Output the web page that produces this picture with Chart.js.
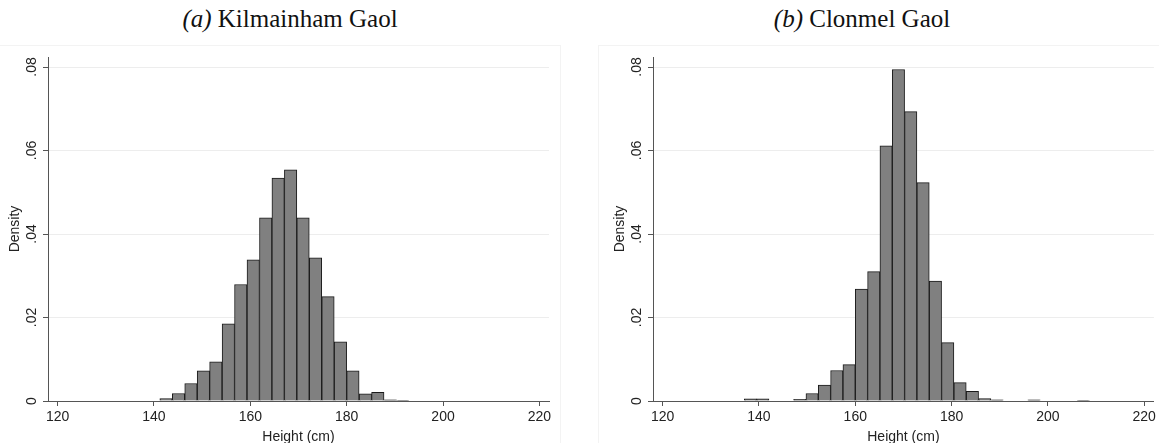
<!DOCTYPE html>
<html>
<head>
<meta charset="utf-8">
<script src="https://cdn.jsdelivr.net/npm/chart.js@4.4.1/dist/chart.umd.min.js"></script>
<style>
  body { margin: 0; background: #fff; width: 1159px; height: 443px; overflow: hidden; position: relative; }
  .title { position: absolute; top: 6px; width: 400px; text-align: center; font-family: "Liberation Serif", "DejaVu Serif", serif; font-size: 25px; line-height: 25px; color: #111; white-space: nowrap; }
  .frame { position: absolute; top: 45px; height: 420px; border: 1px solid #f3f3f3; }
  canvas { position: absolute; top: 45px; }
</style>
</head>
<body>
<div class="frame" style="left:-2px; width:561px;"></div>
<div class="frame" style="left:598px; width:600px;"></div>
<div class="title" style="left:90px;"><i>(a)</i> Kilmainham Gaol</div>
<div class="title" style="left:662px;"><i>(b)</i> Clonmel Gaol</div>
<canvas id="kilmainham" width="560" height="402" style="left:0px"></canvas>
<canvas id="clonmel" width="554" height="402" style="left:605px"></canvas>
<script>
// histogram bins: left edge of each bin (cm) and density
const kilWidth = 2.586;
const kilEdges = [141.21, 143.80, 146.38, 148.97, 151.55, 154.14, 156.72, 159.31, 161.90, 164.48,
                  167.07, 169.65, 172.24, 174.83, 177.41, 180.00, 182.59, 185.17, 187.76, 190.34];
const kilDensity = [0.0006, 0.0018, 0.0042, 0.0072, 0.0094, 0.0185, 0.0279, 0.0338, 0.0439, 0.0534,
                    0.0554, 0.0439, 0.0343, 0.0250, 0.0142, 0.0072, 0.0017, 0.0021, 0.0003, 0.0001];

const cloWidth = 2.56;
const cloEdges = [136.96, 139.52, 142.08, 144.64, 147.20, 149.76, 152.32, 154.88, 157.44, 160.00,
                  162.56, 165.12, 167.68, 170.24, 172.80, 175.36, 177.92, 180.48, 183.04, 185.60,
                  188.16, 190.72, 193.28, 195.84, 198.40, 200.96, 203.52, 206.08];
const cloDensity = [0.0005, 0.0005, 0, 0, 0.0004, 0.0018, 0.0038, 0.0073, 0.0087, 0.0268,
                    0.0310, 0.0611, 0.0794, 0.0693, 0.0523, 0.0287, 0.0140, 0.0044, 0.0023, 0.0006,
                    0.0003, 0, 0, 0.0003, 0, 0, 0, 0.0001];

const xTicks = [120, 140, 160, 180, 200, 220];
const yTicks = [0, 0.02, 0.04, 0.06, 0.08];

const axisFont = { family: "'Liberation Sans', Arial, sans-serif", size: 14 };
const textColor = '#222';

function yLabel(v) {
  if (v === 0) return '0';
  return v.toFixed(2).replace(/^0/, '');
}

function makeHist(id, edges, density, width, padRight) {
  const points = edges.map((e, i) => ({ x: e + width / 2, y: density[i] }));
  new Chart(document.getElementById(id), {
    type: 'bar',
    data: {
      datasets: [{
        data: points,
        backgroundColor: '#808080',
        borderColor: '#1a1a1a',
        borderWidth: 1,
        categoryPercentage: 1,
        barPercentage: 1,
        grouped: false
      }]
    },
    options: {
      responsive: false,
      animation: false,
      devicePixelRatio: 1,
      layout: { padding: { top: 12, right: padRight, left: 0, bottom: 0 } },
      plugins: { legend: { display: false }, tooltip: { enabled: false } },
      scales: {
        x: {
          type: 'linear',
          min: 118,
          max: 222,
          offset: false,
          afterBuildTicks: s => { s.ticks = xTicks.map(v => ({ value: v })); },
          afterFit: s => { s.height = 46; },
          border: { color: '#555', width: 1 },
          grid: { offset: false, drawOnChartArea: false, tickColor: '#555', tickLength: 5 },
          ticks: { autoSkip: false, maxRotation: 0, padding: 3, font: axisFont, color: textColor },
          title: { display: true, text: 'Height (cm)', font: axisFont, color: textColor, padding: { top: 0, bottom: 1 } }
        },
        y: {
          min: 0,
          max: 0.0824,
          afterBuildTicks: s => { s.ticks = yTicks.map(v => ({ value: v })); },
          afterFit: s => { s.width = 48; },
          border: { color: '#555', width: 1 },
          grid: {
            color: ctx => (ctx.tick && ctx.tick.value === 0) ? 'rgba(0,0,0,0)' : '#ededed',
            tickColor: '#555',
            tickLength: 5
          },
          ticks: {
            minRotation: 90,
            maxRotation: 90,
            crossAlign: 'center',
            padding: 1,
            font: axisFont,
            color: textColor,
            callback: v => yLabel(v)
          },
          title: { display: true, text: 'Density', font: axisFont, color: textColor, padding: { top: 7, bottom: 0 } }
        }
      }
    }
  });
}

makeHist('kilmainham', kilEdges, kilDensity, kilWidth, 11);
makeHist('clonmel', cloEdges, cloDensity, cloWidth, 5);
</script>
</body>
</html>
